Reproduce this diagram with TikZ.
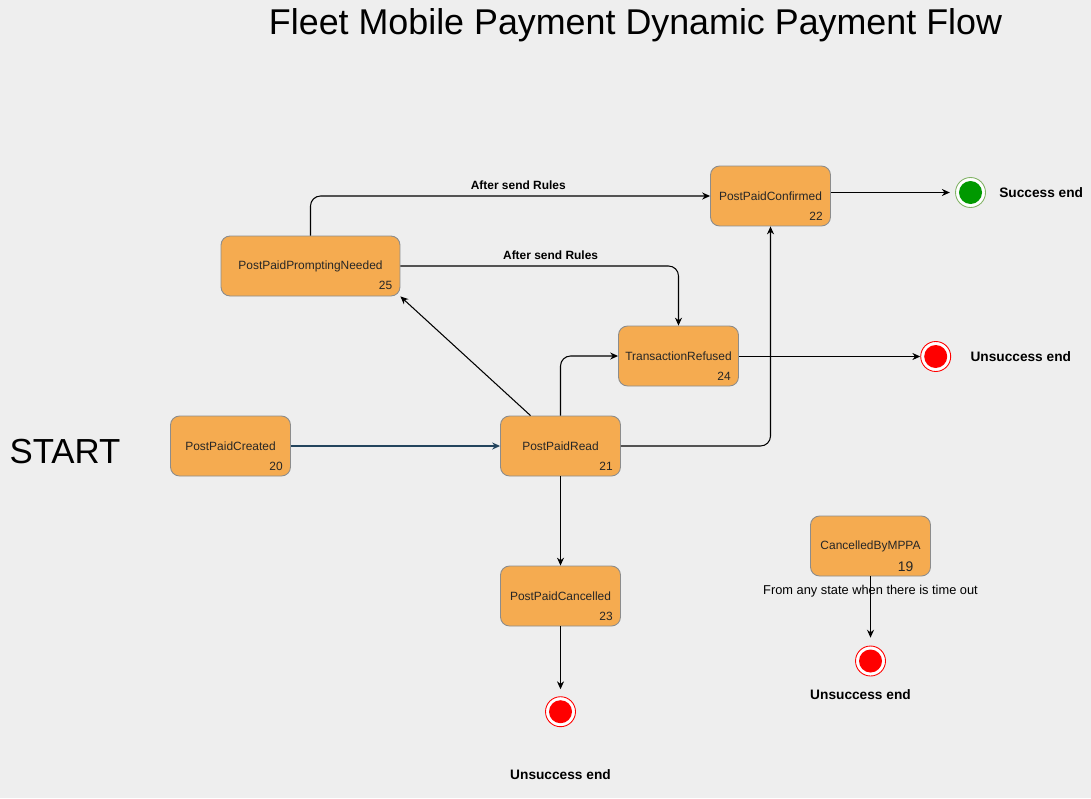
\documentclass[tikz,border=0pt]{standalone}
\usepackage{fontspec}
\setmainfont{Liberation Sans}
\usetikzlibrary{positioning,arrows.meta}
\definecolor{bg}{HTML}{EEEEEE}
\definecolor{stateorange}{HTML}{F5AB50}
\definecolor{stateline}{HTML}{8C8C8C}
\definecolor{navy}{HTML}{23445D}
\definecolor{okgreen}{HTML}{009900}
\definecolor{okring}{HTML}{82B366}

\begin{document}
\begin{tikzpicture}[x=0.02cm,y=-0.02cm]
        \tikzstyle{state}=[rectangle,rounded corners=0.18cm,draw=stateline,fill=stateorange,line width=0.5pt,
        minimum width=2.4cm,minimum height=1.2cm,inner sep=0pt,text=black!85,font=\fontsize{6.8}{8}\selectfont]
        \tikzstyle{num}=[inner sep=0pt,text=black!85,font=\fontsize{6.8}{8}\selectfont]
        \tikzstyle{rule}=[font=\bfseries\fontsize{6.8}{8}\selectfont]
        \tikzstyle{endlabel}=[inner sep=0pt,font=\bfseries\fontsize{7.8}{9}\selectfont]
        \tikzstyle{badend}=[circle,draw=red,fill=white,line width=0.5pt,minimum size=0.6cm,inner sep=0pt,
        path picture={\fill[red] (path picture bounding box.center) circle (0.23cm);}]
        \tikzstyle{goodend}=[circle,draw=okring,fill=white,line width=0.5pt,minimum size=0.6cm,inner sep=0pt,
        path picture={\fill[okgreen] (path picture bounding box.center) circle (0.23cm);}]
        \tikzstyle{flow}=[-{Stealth[length=4.5pt,width=4pt]},line width=0.6pt,rounded corners=0.2cm]
        \fill[bg] (0,0) rectangle (1091,798);
        % title and start
        \node[anchor=base,font=\fontsize{20.4}{24}\selectfont] (title) at (635.5,34) {Fleet Mobile Payment Dynamic Payment Flow};
        \node[anchor=base,font=\fontsize{19.8}{24}\selectfont] (start) at (65,463.3) {START};
        % states
        \node[state] (created) at (230.5,446) {PostPaidCreated};
        \node[state] (read) at (560.5,446) {PostPaidRead};
        \node[state,minimum width=3.58cm] (prompt) at (310.5,266) {PostPaidPromptingNeeded};
        \node[state] (confirmed) at (770.5,196) {PostPaidConfirmed};
        \node[state] (refused) at (678.5,356) {TransactionRefused};
        \node[state] (cancelled) at (560.5,596) {PostPaidCancelled};
        \node[state] (mppa) at (870.5,546) {CancelledByMPPA};
        \node[num,above left=3.4pt and 4.5pt of created.south east] {20};
        \node[num,above left=3.4pt and 4.5pt of read.south east] {21};
        \node[num,above left=3.4pt and 4.5pt of confirmed.south east] {22};
        \node[num,above left=3.4pt and 4.5pt of cancelled.south east] {23};
        \node[num,above left=3.4pt and 4.5pt of refused.south east] {24};
        \node[num,above left=3.4pt and 4.5pt of prompt.south east] {25};
        \node[num,above left=2.8pt and 9.8pt of mppa.south east,font=\fontsize{7.9}{9}\selectfont] {19};
        % ends
        \node[goodend] (okend) at (970.5,192.5) {};
        \node[badend] (badA) at (935.7,356.5) {};
        \node[badend] (badB) at (560.5,711.7) {};
        \node[badend] (badC) at (870.5,661) {};
        \node[endlabel,right=0.26cm of okend] {Success end};
        \node[endlabel,right=0.38cm of badA] {Unsuccess end};
        \node[endlabel,below=0.85cm of badB] {Unsuccess end};
        \node[endlabel,below=0.26cm of badC,xshift=-0.2cm] {Unsuccess end};
        % transitions
        \draw[flow,navy] (created) -- (read);
        \draw[flow] ([xshift=-0.6cm]read.north) -- (prompt.south east);
        \draw[flow] (read.north) |- (refused.west);
        \draw[flow] (read.east) -| (confirmed.south);
        \draw[flow] (read) -- (cancelled);
        \draw[flow] (prompt.north) |- node[rule,above,pos=0.76] {After send Rules} (confirmed.west);
        \draw[flow] (prompt.east) -| node[rule,above,pos=0.27] {After send Rules} (refused.north);
        \draw[flow,shorten >=3pt] (confirmed.east |- okend) -- (okend);
        \draw[flow] (refused.east |- badA) -- (badA);
        \draw[flow,shorten >=4pt] (cancelled) -- (badB);
        \draw[flow,shorten >=4.5pt] (mppa) -- node[pos=0.22,font=\fontsize{7.3}{9}\selectfont] {From any state when there is time out} (badC);
\end{tikzpicture}
\end{document}
